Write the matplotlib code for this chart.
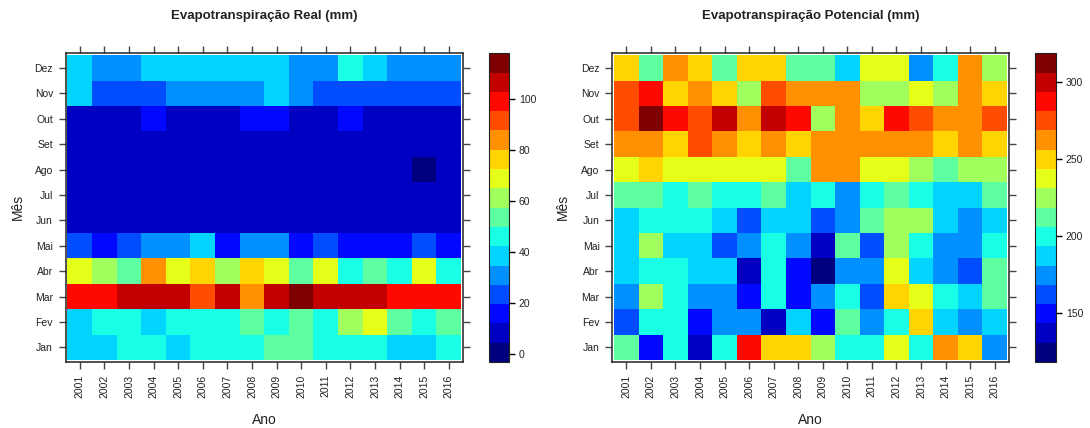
"""
Mapas de calor mensais de evapotranspiração (real e potencial), 2001-2016.
Estilo levelplot do lattice, paleta tipo "jet" com 16 classes.
"""
import matplotlib
matplotlib.use("Agg")  # sem tela
import matplotlib.pyplot as plt
import numpy as np
from matplotlib.colors import BoundaryNorm, LinearSegmentedColormap, ListedColormap

plt.rcParams["font.family"] = ["Liberation Sans", "DejaVu Sans"]

ANOS = ["2001", "2002", "2003", "2004", "2005", "2006", "2007", "2008",
        "2009", "2010", "2011", "2012", "2013", "2014", "2015", "2016"]
MESES = ["Jan", "Fev", "Mar", "Abr", "Mai", "Jun",
         "Jul", "Ago", "Set", "Out", "Nov", "Dez"]

# Evapotranspiração real (mm) — uma linha por mês (Jan..Dez), colunas = anos
ETR = [
    [39, 39, 46, 46, 39, 46, 46, 46, 54, 54, 46, 46, 46, 39, 39, 46],
    [39, 46, 46, 39, 46, 46, 46, 54, 46, 54, 46, 61, 69, 54, 46, 54],
    [99, 99, 107, 107, 107, 92, 107, 84, 107, 114, 107, 107, 107, 99, 99, 99],
    [69, 61, 54, 84, 69, 77, 61, 77, 69, 54, 69, 46, 54, 46, 69, 46],
    [24, 16, 24, 31, 31, 39, 16, 31, 31, 16, 24, 16, 16, 16, 24, 16],
    [8, 8, 8, 8, 8, 8, 8, 8, 8, 8, 8, 8, 8, 8, 8, 8],
    [8, 8, 8, 8, 8, 8, 8, 8, 8, 8, 8, 8, 8, 8, 8, 8],
    [8, 8, 8, 8, 8, 8, 8, 8, 8, 8, 8, 8, 8, 8, 1, 8],
    [8, 8, 8, 8, 8, 8, 8, 8, 8, 8, 8, 8, 8, 8, 8, 8],
    [8, 8, 8, 16, 8, 8, 8, 16, 16, 8, 8, 16, 8, 8, 8, 8],
    [39, 24, 24, 24, 31, 31, 31, 31, 39, 31, 24, 24, 24, 24, 24, 24],
    [39, 31, 31, 39, 39, 39, 39, 39, 39, 31, 31, 46, 39, 31, 31, 31],
]

# Evapotranspiração potencial (mm)
ETP = [
    [212, 150, 200, 137, 200, 288, 250, 250, 225, 200, 200, 237, 200, 263, 250, 175],
    [162, 200, 200, 150, 175, 175, 137, 187, 150, 212, 175, 200, 250, 187, 175, 187],
    [175, 225, 200, 175, 175, 150, 200, 150, 175, 200, 162, 250, 237, 200, 187, 212],
    [187, 200, 200, 187, 187, 137, 200, 150, 125, 175, 175, 237, 187, 175, 162, 212],
    [187, 225, 187, 187, 162, 175, 200, 175, 137, 212, 162, 225, 200, 175, 175, 200],
    [187, 200, 200, 200, 187, 162, 187, 187, 162, 175, 212, 225, 225, 187, 175, 187],
    [212, 212, 200, 212, 200, 200, 212, 187, 200, 175, 200, 212, 200, 187, 187, 212],
    [237, 250, 237, 237, 237, 237, 237, 212, 263, 263, 237, 237, 225, 212, 225, 225],
    [263, 263, 250, 275, 263, 250, 263, 250, 263, 263, 263, 263, 263, 250, 263, 250],
    [275, 313, 288, 275, 300, 263, 300, 288, 225, 263, 250, 288, 275, 263, 263, 275],
    [275, 288, 250, 263, 250, 225, 275, 263, 263, 263, 225, 225, 237, 225, 263, 250],
    [250, 212, 263, 250, 212, 250, 250, 212, 212, 187, 237, 237, 175, 200, 263, 225],
]

# faixa da escala de cores (extremos das 16 classes)
FAIXA_ETR = (-3.0, 118.1)
FAIXA_ETP = (118.4, 318.9)
TICKS_ETR = [0, 20, 40, 60, 80, 100]
TICKS_ETP = [150, 200, 250, 300]

ANCORAS = ["#00007F", "blue", "#007FFF", "cyan", "#7FFF7F",
           "yellow", "#FF7F00", "red", "#7F0000"]
PALETA = ListedColormap(
    LinearSegmentedColormap.from_list("jet", ANCORAS)(np.linspace(0, 1, 16)))

W, H = 1090, 428
TXT = "#222222"


def caixa(x0, y0, x1, y1):
    """pixels (origem no topo) -> fração da figura"""
    return [x0 / W, (H - y1) / H, (x1 - x0) / W, (y1 - y0) / H]


def painel(fig, dados, faixa, ticks, titulo, pos_ax, pos_cb, x_mes):
    ax = fig.add_axes(caixa(*pos_ax))
    cb_ax = fig.add_axes(caixa(*pos_cb))
    niveis = np.linspace(faixa[0], faixa[1], 17)
    norma = BoundaryNorm(niveis, PALETA.N)
    xb = np.arange(len(ANOS) + 1) + 0.5
    yb = np.arange(len(MESES) + 1) + 0.5
    malha = ax.pcolormesh(xb, yb, np.array(dados), cmap=PALETA, norm=norma)
    ax.set_xlim(0.42, len(ANOS) + 0.58)
    ax.set_ylim(0.42, len(MESES) + 0.58)

    ax.set_xticks(range(1, len(ANOS) + 1))
    ax.set_xticklabels(ANOS, rotation=90)
    ax.set_yticks(range(1, len(MESES) + 1))
    ax.set_yticklabels(MESES)
    ax.tick_params(top=True, right=True, length=5, width=1, color="#444444",
                   labelsize=7.5, labelcolor=TXT, pad=4)
    for s in ax.spines.values():
        s.set_linewidth(1.1)
        s.set_color("#222222")

    xc = (pos_ax[0] + pos_ax[2]) / 2 / W
    fig.text(xc, 1 - 16 / H, titulo, ha="center", va="center",
             fontsize=9.5, fontweight="bold", color=TXT)
    fig.text(xc, 1 - 420 / H, "Ano", ha="center", va="center",
             fontsize=10, color=TXT)
    fig.text(x_mes / W, 1 - 207 / H, "Mês", ha="center", va="center",
             rotation=90, fontsize=10, color=TXT)

    cb = fig.colorbar(malha, cax=cb_ax, boundaries=niveis, ticks=ticks)
    cb.minorticks_off()
    cb.outline.set_linewidth(0.8)
    cb.outline.set_edgecolor("#222222")
    cb_ax.tick_params(length=4, width=1, labelsize=7.5, labelcolor=TXT, pad=3)
    return ax


fig = plt.figure(figsize=(W / 100, H / 100), dpi=100)
painel(fig, ETR, FAIXA_ETR, TICKS_ETR, "Evapotranspiração Real (mm)",
       (65.5, 53.3, 463, 362), (489, 53.3, 509, 362), 17.5)
painel(fig, ETP, FAIXA_ETP, TICKS_ETP, "Evapotranspiração Potencial (mm)",
       (612, 53.3, 1009, 362), (1035, 53.3, 1056, 362), 563)
fig.savefig("out.png", dpi=100)
